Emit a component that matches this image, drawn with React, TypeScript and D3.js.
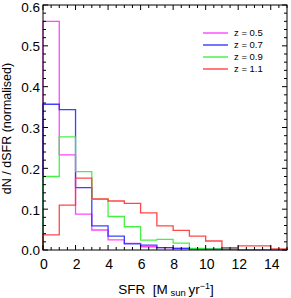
import * as d3 from "d3";

// bin lower edges, SFR [M_sun / yr], bins of width 1
const BIN_EDGES = [0, 1, 2, 3, 4, 5, 6, 7, 8, 9, 10, 11, 12, 13, 14, 15];

const Z05 = [0.56, 0.233, 0.088, 0.049, 0.025, 0.016, 0.008, 0.006, 0.004, 0.003, 0.002, 0.002, 0.001, 0.001, 0.001];
const Z07 = [0.357, 0.344, 0.153, 0.059, 0.034, 0.015, 0.012, 0.006, 0.004, 0.003, 0.002, 0.002, 0.001, 0.001, 0.001];
const Z09 = [0.18, 0.277, 0.192, 0.124, 0.082, 0.057, 0.024, 0.026, 0.017, 0.004, 0.003, 0.002, 0.001, 0.001, 0.001];
const Z11 = [0.037, 0.11, 0.176, 0.125, 0.12, 0.114, 0.091, 0.059, 0.048, 0.034, 0.022, 0.006, 0.01, 0.01, 0.003];

const LABELS = ["z = 0.5", "z = 0.7", "z = 0.9", "z = 1.1"];
const COLORS = ["#ff33ff", "#2a2aff", "#33ee33", "#ff3333"];

const X_TICKS = [0, 2, 4, 6, 8, 10, 12, 14];
const Y_TICKS = [0, 0.1, 0.2, 0.3, 0.4, 0.5, 0.6];

const FONT = "'Liberation Sans', Arial, Helvetica, sans-serif";

export default function App() {
  const width = 291;
  const height = 298;
  const m = { left: 43, right: 4, top: 5, bottom: 48 };

  const x = d3.scaleLinear().domain([0, 15]).range([m.left, width - m.right]);
  const y = d3.scaleLinear().domain([0, 0.6]).range([height - m.bottom, m.top]);

  const series = [Z05, Z07, Z09, Z11];

  const line = d3
    .line<number>()
    .x((_, i) => x(BIN_EDGES[i]))
    .y((d) => y(d))
    .curve(d3.curveStepAfter);

  const stepPath = (vals: number[]) => {
    const pts = [...vals, vals[vals.length - 1]];
    const p = line(pts) || "";
    // start from and end on the baseline
    return `M${x(0)},${y(0)}L${p.slice(1)}L${x(15)},${y(0)}`;
  };

  const x0 = x(0), x1 = x(15), y0 = y(0), y1 = y(0.6);
  const xMinor = d3.range(0, 15.01, 0.5);
  const yMinor = d3.range(0, 0.601, 0.02);

  return (
    <svg
      width={width}
      height={height}
      style={{ position: "absolute", left: 0, top: 0, background: "#fff" }}
      fontFamily={FONT}
    >
      {series.map((s, i) => (
        <path key={i} d={stepPath(s)} fill="none" stroke={COLORS[i]} strokeWidth={1.3} strokeOpacity={0.9} />
      ))}

      {/* frame */}
      <rect x={x0} y={y1} width={x1 - x0} height={y0 - y1} fill="none" stroke="#000" strokeWidth={1} />

      {/* x ticks, bottom and top, pointing inwards */}
      {xMinor.map((v) => {
        const major = Math.abs(v / 2 - Math.round(v / 2)) < 1e-6;
        const len = major ? 5 : 3;
        return (
          <g key={"xt" + v} stroke="#000" strokeWidth={1}>
            <line x1={x(v)} x2={x(v)} y1={y0} y2={y0 - len} />
            <line x1={x(v)} x2={x(v)} y1={y1} y2={y1 + len} />
          </g>
        );
      })}
      {yMinor.map((v) => {
        const major = Math.abs(v / 0.1 - Math.round(v / 0.1)) < 1e-6;
        const len = major ? 5 : 3;
        return (
          <g key={"yt" + v.toFixed(2)} stroke="#000" strokeWidth={1}>
            <line x1={x0} x2={x0 + len} y1={y(v)} y2={y(v)} />
            <line x1={x1} x2={x1 - len} y1={y(v)} y2={y(v)} />
          </g>
        );
      })}

      {X_TICKS.map((v) => (
        <text key={"xl" + v} x={x(v) + 1} y={268.5} fontSize={14} textAnchor="middle" fill="#000">
          {v}
        </text>
      ))}
      {Y_TICKS.map((v) => (
        <text
          key={"yl" + v}
          x={40}
          y={Math.max(y(v) + 0.5, 7.6)}
          dy="0.36em"
          fontSize={13.5}
          textAnchor="end"
          fill="#000"
        >
          {v.toFixed(1)}
        </text>
      ))}

      <text x={(x0 + x1) / 2 + 1} y={294} fontSize={13.5} textAnchor="middle" fill="#000">
        {"SFR\u00a0\u00a0[M"}
        <tspan fontSize={9.5} dy={2}>{"\u00a0sun\u00a0"}</tspan>
        <tspan dy={-2}>yr</tspan>
        <tspan fontSize={9} dy={-5}>{"\u22121"}</tspan>
        <tspan dy={5}>]</tspan>
      </text>

      <text
        transform={`translate(11,${(y0 + y1) / 2 + 1}) rotate(-90)`}
        fontSize={12.5}
        textAnchor="middle"
        fill="#000"
      >
        dN / dSFR (normalised)
      </text>

      {LABELS.map((lab, i) => (
        <g key={lab}>
          <line x1={203} x2={228} y1={33 + i * 12} y2={33 + i * 12} stroke={COLORS[i]} strokeWidth={1.3} />
          <text x={234} y={33 + i * 12} dy="0.35em" fontSize={9.5} fill="#000">
            {lab}
          </text>
        </g>
      ))}
    </svg>
  );
}
